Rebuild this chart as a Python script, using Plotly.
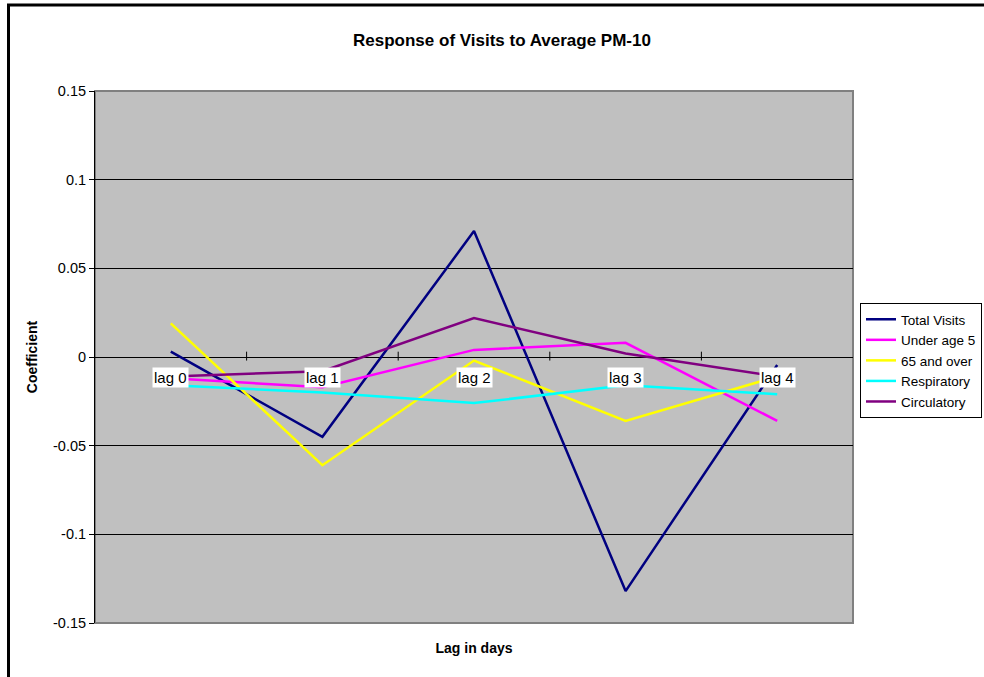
import plotly.graph_objects as go

# Category labels and regression coefficients by lag
lags = ["lag 0", "lag 1", "lag 2", "lag 3", "lag 4"]
total_visits = [0.003, -0.045, 0.071, -0.132, -0.0045]
under_age_5 = [-0.012, -0.017, 0.004, 0.008, -0.036]
age_65_over = [0.019, -0.061, -0.002, -0.036, -0.011]
respiratory = [-0.016, -0.020, -0.026, -0.016, -0.021]
circulatory = [-0.011, -0.008, 0.022, 0.002, -0.011]

series = [
    ("Total Visits", total_visits, "#000080"),
    ("Under age 5", under_age_5, "#FF00FF"),
    ("65 and over", age_65_over, "#FFFF00"),
    ("Respiratory", respiratory, "#00FFFF"),
    ("Circulatory", circulatory, "#800080"),
]

y_ticks = [0.15, 0.1, 0.05, 0, -0.05, -0.1, -0.15]
y_tick_text = ["0.15", "0.1", "0.05", "0", "-0.05", "-0.1", "-0.15"]

FONT = "Liberation Sans, Arial, sans-serif"
x_idx = list(range(len(lags)))

fig = go.Figure()
for name, vals, color in series:
    fig.add_trace(go.Scatter(
        x=x_idx, y=vals, name=name, mode="lines",
        line=dict(color=color, width=2.5),
    ))

# Category labels sit on the zero line with a white box behind them
annotations = [
    dict(x=i, y=0, xref="x", yref="y", text=lab, showarrow=False,
         yanchor="middle", yshift=-20, bgcolor="white", borderpad=1,
         font=dict(family=FONT, size=15, color="black"))
    for i, lab in zip(x_idx, lags)
]

W, H = 984, 677
ml, mr, mt, mb = 95, 131, 91, 54
pw, ph = W - ml - mr, H - mt - mb

def px_x(p):
    return (p - ml) / pw

def px_y(p):
    return (H - mb - p) / ph

shapes = [
    # grey frame around the plotting area
    dict(type="rect", xref="paper", yref="paper", x0=0, x1=1, y0=0, y1=1,
         line=dict(color="#808080", width=2), layer="below"),
    # outer chart frame (left and top edges)
    dict(type="line", xref="paper", yref="paper",
         x0=px_x(8.5), x1=px_x(8.5), y0=px_y(5), y1=px_y(H),
         line=dict(color="black", width=3)),
    dict(type="line", xref="paper", yref="paper",
         x0=px_x(7), x1=px_x(W), y0=px_y(5), y1=px_y(5),
         line=dict(color="black", width=3)),
]
# category tick marks crossing the zero line
for b in [0.5, 1.5, 2.5, 3.5]:
    shapes.append(dict(type="line", xref="x", yref="y", x0=b, x1=b,
                       y0=-0.002, y1=0.003, line=dict(color="black", width=1)))

fig.update_layout(
    width=W, height=H,
    margin=dict(l=ml, r=mr, t=mt, b=mb, autoexpand=False),
    paper_bgcolor="white",
    plot_bgcolor="#C0C0C0",
    font=dict(family=FONT, size=14, color="black"),
    title=dict(text="<b>Response of Visits to Average PM-10</b>",
               x=502 / W, xanchor="center", y=1 - 40 / H, yanchor="middle",
               font=dict(family=FONT, size=17, color="black")),
    xaxis=dict(range=[-0.5, 4.5], showticklabels=False, showgrid=False,
               zeroline=False, ticks="", showline=False,
               title=dict(text="<b>Lag in days</b>", standoff=20,
                          font=dict(family=FONT, size=14))),
    yaxis=dict(range=[-0.15, 0.15], tickvals=y_ticks, ticktext=y_tick_text,
               showgrid=True, gridcolor="black", gridwidth=1,
               zeroline=True, zerolinecolor="black", zerolinewidth=1,
               showline=True, linecolor="black", linewidth=1,
               ticks="outside", ticklen=5, tickcolor="black",
               tickfont=dict(family=FONT, size=14.5),
               title=dict(text="<b>Coefficient</b>", standoff=12,
                          font=dict(family=FONT, size=14))),
    legend=dict(x=px_x(860), y=px_y(303), xanchor="left", yanchor="top",
                bgcolor="white", bordercolor="black", borderwidth=1,
                font=dict(family=FONT, size=13.5), itemwidth=30,
                tracegroupgap=0),
    annotations=annotations,
    shapes=shapes,
    showlegend=True,
)

fig.write_html("out.html")
